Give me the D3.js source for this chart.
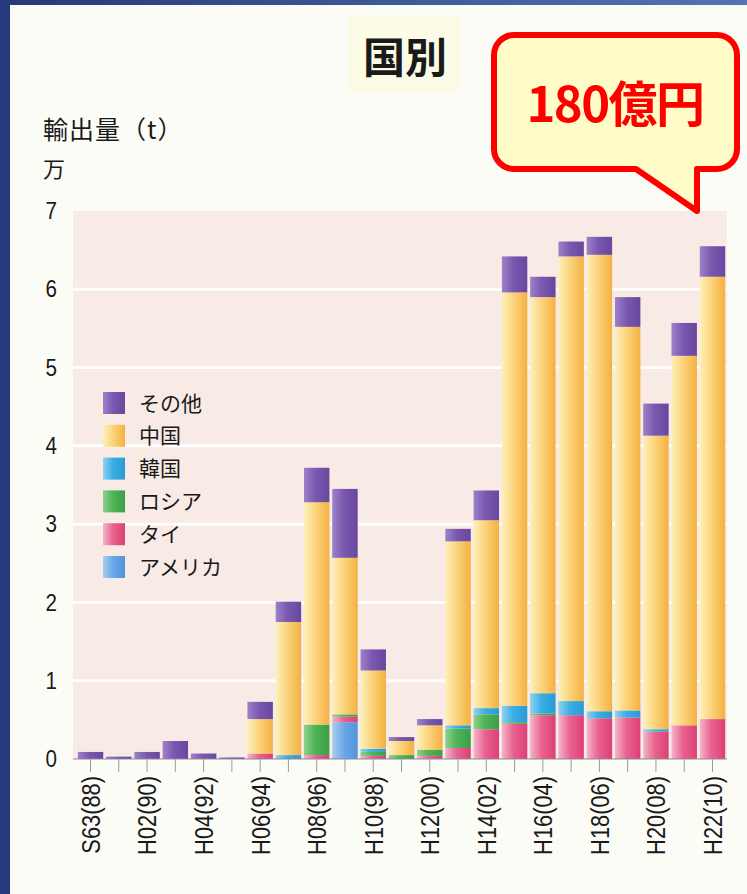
<!DOCTYPE html>
<html>
<head>
<meta charset="utf-8">
<script src="https://cdn.jsdelivr.net/npm/d3@7"></script>
<style>
  html, body { margin: 0; padding: 0; background: #fcfcf6; }
  svg { display: block; }
</style>
</head>
<body>
<svg id="chart" width="747" height="894"></svg>
<script>
// Export volume by destination country (unit: 10,000 t), 1988–2010
const years = ["S63(88)","H01(89)","H02(90)","H03(91)","H04(92)","H05(93)","H06(94)","H07(95)",
  "H08(96)","H09(97)","H10(98)","H11(99)","H12(00)","H13(01)","H14(02)","H15(03)","H16(04)",
  "H17(05)","H18(06)","H19(07)","H20(08)","H21(09)","H22(10)"];

const america = [0,0,0,0,0,0,0,0,0,0.47,0,0,0,0,0,0,0,0,0,0,0,0,0];
const thai    = [0,0,0,0,0,0,0.07,0,0.05,0.07,0.04,0,0.04,0.14,0.38,0.45,0.56,0.56,0.52,0.53,0.35,0.43,0.51];
const russia  = [0,0,0,0,0,0,0,0,0.39,0.03,0.05,0.05,0.08,0.25,0.19,0.02,0.02,0,0,0,0,0,0];
const korea   = [0,0,0,0,0,0,0,0.05,0,0,0.04,0,0,0.04,0.08,0.21,0.26,0.18,0.09,0.09,0.03,0,0];
const china   = [0,0,0,0,0,0,0.44,1.70,2.84,2.00,1.00,0.18,0.31,2.35,2.40,5.28,5.06,5.68,5.83,4.90,3.75,4.72,5.65];
const other   = [0.09,0.03,0.09,0.23,0.07,0.02,0.22,0.26,0.44,0.88,0.27,0.05,0.08,0.16,0.38,0.46,0.26,0.19,0.23,0.38,0.41,0.42,0.39];

const yTicks = [0,1,2,3,4,5,6,7];

// stacking order, bottom to top
const seriesKeys   = ["america","thai","russia","korea","china","other"];
const seriesNames  = { america:"アメリカ", thai:"タイ", russia:"ロシア", korea:"韓国", china:"中国", other:"その他" };
const seriesValues = { america, thai, russia, korea, china, other };
// light / base / deep shades for the bar gradients
const seriesColors = {
  america: ["#a8cdf2","#6aa9e8","#4f93dc"],
  thai:    ["#f4b6cb","#e9638f","#dc3f74"],
  russia:  ["#8fd08f","#4db457","#39a047"],
  korea:   ["#8fd2f2","#3aaee4","#2a9ad6"],
  china:   ["#fdf0bb","#fbd47c","#f4b040"],
  other:   ["#9d82c8","#7b58b0","#6a479e"]
};

const rows = years.map((y, i) => {
  const r = { year: y };
  seriesKeys.forEach(k => r[k] = seriesValues[k][i]);
  return r;
});

const svg = d3.select("#chart");
const W = 747, H = 894;

// page background + dark frame
svg.append("rect").attr("width", W).attr("height", H).attr("fill", "#fcfcf6");
const defs = svg.append("defs");
const frameGrad = defs.append("linearGradient").attr("id", "frameTop").attr("x1", 0).attr("x2", 1);
frameGrad.append("stop").attr("offset", 0).attr("stop-color", "#26397a");
frameGrad.append("stop").attr("offset", 1).attr("stop-color", "#5574b4");
svg.append("rect").attr("x", 0).attr("y", 0).attr("width", W).attr("height", 5).attr("fill", "url(#frameTop)");
svg.append("rect").attr("x", 0).attr("y", 0).attr("width", 10).attr("height", H).attr("fill", "#263a7c");

// bar gradients
seriesKeys.forEach(k => {
  const g = defs.append("linearGradient").attr("id", "g-" + k).attr("x1", 0).attr("x2", 1).attr("y1", 0).attr("y2", 0);
  const c = seriesColors[k];
  g.append("stop").attr("offset", 0).attr("stop-color", c[0]);
  g.append("stop").attr("offset", 0.45).attr("stop-color", c[1]);
  g.append("stop").attr("offset", 1).attr("stop-color", c[2]);
});

const x = d3.scaleBand().domain(years).range([73, 730]).paddingInner(0.1).paddingOuter(0.17);
const y = d3.scaleLinear().domain([0, 7]).range([759, 211]);

// plot panel
svg.append("rect")
  .attr("x", 73).attr("y", y(7))
  .attr("width", 727 - 73).attr("height", y(0) - y(7))
  .attr("fill", "#f8ebe6");

// white grid bands
svg.append("g").selectAll("line").data(yTicks.filter(t => t > 0 && t < 7)).join("line")
  .attr("x1", 73).attr("x2", 727)
  .attr("y1", d => y(d)).attr("y2", d => y(d))
  .attr("stroke", "#ffffff").attr("stroke-width", 3).attr("stroke-opacity", 0.9);

// stacked bars
const stack = d3.stack().keys(seriesKeys)(rows);
svg.append("g").selectAll("g").data(stack).join("g")
  .attr("fill", d => "url(#g-" + d.key + ")")
  .selectAll("rect").data(d => d.filter(s => s[1] - s[0] > 0)).join("rect")
  .attr("x", d => x(d.data.year))
  .attr("width", x.bandwidth())
  .attr("y", d => y(d[1]))
  .attr("height", d => y(d[0]) - y(d[1]));

// x axis: tick at every year, label every other year (condensed sans)
const sx = 0.84;
const xAxis = d3.axisBottom(x).tickSize(13).tickPadding(6)
  .tickFormat((d, i) => i % 2 === 0 ? d : "");
const gx = svg.append("g").attr("transform", `translate(0,${y(0)})`).call(xAxis);
gx.select(".domain").attr("stroke", "#8a8aa0").attr("stroke-width", 1.2).attr("d", "M73,0H727");
gx.selectAll(".tick line").attr("stroke", "#9a9a9a").attr("stroke-width", 1);
gx.selectAll(".tick text")
  .attr("font-family", "'Liberation Sans', Arial, sans-serif")
  .attr("font-size", 26).attr("fill", "#1a1a1a")
  .attr("transform", `rotate(-90) scale(${sx},1)`)
  .attr("text-anchor", "end")
  .attr("dy", "0.36em")
  .attr("x", -17 / sx).attr("y", 0);

// y axis labels
const yAxis = d3.axisLeft(y).tickValues(yTicks).tickSize(0).tickPadding(0).tickFormat(d3.format("d"));
const gy = svg.append("g").attr("transform", "translate(57,0)").call(yAxis);
gy.select(".domain").remove();
gy.selectAll(".tick text")
  .attr("font-family", "'Liberation Sans', Arial, sans-serif")
  .attr("font-size", 24).attr("fill", "#1a1a1a")
  .attr("transform", "scale(0.86,1)");

// axis title
const jp = "'Noto Sans CJK JP', 'Noto Sans', sans-serif";
svg.append("text").attr("x", 43).attr("y", 139)
  .attr("font-family", jp).attr("font-size", 25).attr("font-weight", 400).attr("fill", "#1a1a1a")
  .attr("letter-spacing", 1).text("輸出量（t）");
svg.append("text").attr("x", 43).attr("y", 177)
  .attr("font-family", jp).attr("font-size", 22).attr("font-weight", 400).attr("fill", "#1a1a1a").text("万");

// title
svg.append("rect").attr("x", 348).attr("y", 17).attr("width", 112).attr("height", 75).attr("fill", "#fbfbe6");
svg.append("text").attr("x", 405).attr("y", 73).attr("text-anchor", "middle")
  .attr("font-family", jp).attr("font-weight", 700).attr("font-size", 42).attr("fill", "#1a1a1a").text("国別");

// legend (top to bottom mirrors the stack)
const legendKeys = seriesKeys.slice().reverse();
const lg = svg.append("g").attr("transform", "translate(103,392)");
const li = lg.selectAll("g").data(legendKeys).join("g")
  .attr("transform", (d, i) => `translate(0,${i * 32.8})`);
li.append("rect").attr("width", 22).attr("height", 22).attr("fill", d => "url(#g-" + d + ")");
li.append("text").attr("x", 36).attr("y", 11).attr("dy", "0.36em")
  .attr("font-family", jp).attr("font-size", 21).attr("font-weight", 400).attr("fill", "#1a1a1a")
  .text(d => seriesNames[d]);

// callout bubble with total value
const bx = 494, by = 35, bw = 243, bh = 134, r = 20;
const tailL = 636, tailR = 697, tipY = 211;
const p = d3.path();
p.moveTo(bx + r, by);
p.lineTo(bx + bw - r, by);
p.arcTo(bx + bw, by, bx + bw, by + r, r);
p.lineTo(bx + bw, by + bh - r);
p.arcTo(bx + bw, by + bh, bx + bw - r, by + bh, r);
p.lineTo(tailR, by + bh);
p.lineTo(tailR, tipY);
p.lineTo(tailL, by + bh);
p.lineTo(bx + r, by + bh);
p.arcTo(bx, by + bh, bx, by + bh - r, r);
p.lineTo(bx, by + r);
p.arcTo(bx, by, bx + r, by, r);
p.closePath();
svg.append("path").attr("d", p.toString())
  .attr("fill", "#fffcc8").attr("stroke", "#ff0000").attr("stroke-width", 6).attr("stroke-linejoin", "round");
svg.append("text").attr("x", 615).attr("y", 122).attr("text-anchor", "middle")
  .attr("font-family", jp).attr("font-weight", 700).attr("font-size", 49).attr("fill", "#ff0000")
  .attr("letter-spacing", -1.5).text("180億円");
</script>
</body>
</html>
